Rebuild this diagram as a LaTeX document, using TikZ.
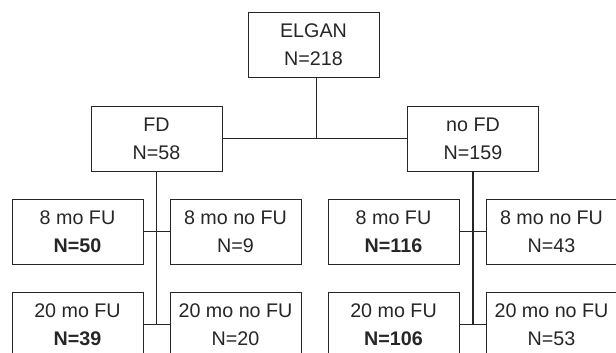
\documentclass[tikz,border=0pt]{standalone}
\usepackage{fontspec}
\setmainfont{Liberation Sans}
\begin{document}
\begin{tikzpicture}[x=1pt,y=-1pt,
  box/.style={draw=black!85,line width=1pt,rectangle,minimum width=131pt,minimum height=65pt,inner sep=0pt,align=center,font=\fontsize{19.7}{28}\selectfont,text=black!85},
  conn/.style={draw=black!85,line width=1pt},
  trunk/.style={draw=black!85,line width=1.8pt}]
\useasboundingbox (0,0) rectangle (616,353);
\clip (0,0) rectangle (616,353);
\node[box] (elgan) at (313.5,45) {ELGAN\\N=218};
\node[box] (fd) at (156.5,138.5) {FD\\N=58};
\node[box] (nofd) at (473,138.5) {no FD\\N=159};
\node[box] (l8) at (77.5,231.5) {8 mo FU\\\textbf{N=50}};
\node[box] (l8n) at (235.5,231.5) {8 mo no FU\\N=9};
\node[box] (l20) at (77.5,324.5) {20 mo FU\\\textbf{N=39}};
\node[box] (l20n) at (235.5,324.5) {20 mo no FU\\N=20};
\node[box] (r8) at (393.5,231.5) {8 mo FU\\\textbf{N=116}};
\node[box] (r8n) at (551.5,231.5) {8 mo no FU\\N=43};
\node[box] (r20) at (393.5,324.5) {20 mo FU\\\textbf{N=106}};
\node[box] (r20n) at (551.5,324.5) {20 mo no FU\\N=53};
\coordinate (j) at (316,138.5);
\draw[conn] (elgan.south -| j) -- (j);
\draw[conn] (fd.east) -- (nofd.west);
\draw[trunk] (fd.south) -- (fd.south |- l20.east);
\draw[trunk] (nofd.south) -- (nofd.south |- r20.east);
\draw[conn] (l8.east) -- (l8n.west);
\draw[conn] (l20.east) -- (l20n.west);
\draw[conn] (r8.east) -- (r8n.west);
\draw[conn] (r20.east) -- (r20n.west);
\end{tikzpicture}
\end{document}
